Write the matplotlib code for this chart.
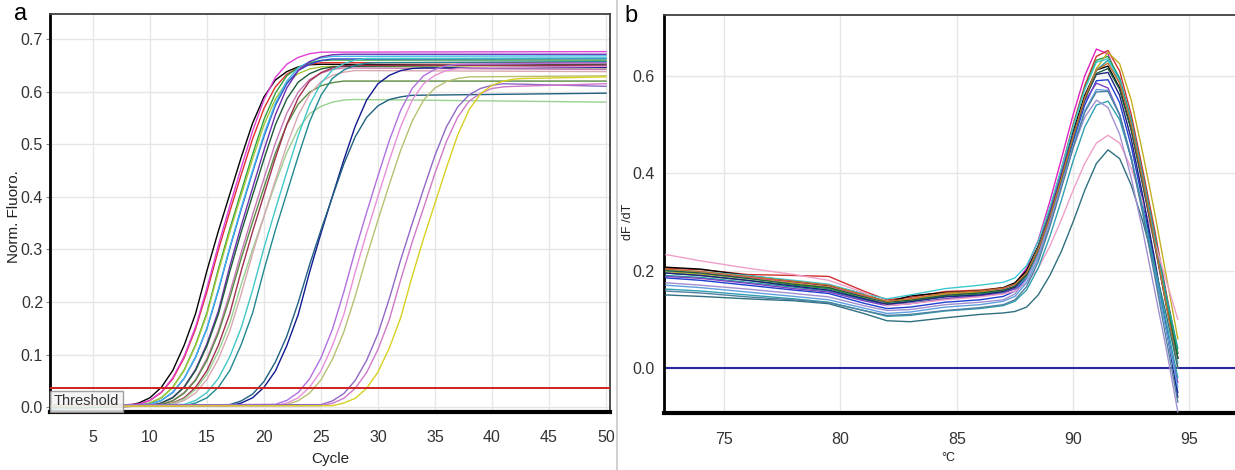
import matplotlib
matplotlib.use('Agg')
import matplotlib.pyplot as plt

plt.rcParams['font.family'] = ['Liberation Sans Narrow', 'Liberation Sans', 'DejaVu Sans']

# ---------------- panel a: amplification curves ----------------
cycle_ticks = [5, 10, 15, 20, 25, 30, 35, 40, 45, 50]
fluoro_ticks = [0.0, 0.1, 0.2, 0.3, 0.4, 0.5, 0.6, 0.7]
threshold_value = 0.037

amp_colors = ['#000000', '#e03030', '#e040d8', '#30a040', '#a8c838', '#3048d0',
              '#40b8e8', '#7030b0', '#1e5a3a', '#c878b8', '#5a8a40', '#a03050',
              '#98d090', '#d8a8b0', '#40c8c8', '#208890', '#101a90', '#206080',
              '#b070e0', '#e890d8', '#b8c070', '#9068c8', '#d078c8', '#d8d020']
amp_start = [8, 9, 9, 9, 9, 10, 10, 10, 10, 11, 11, 11,
             11, 12, 13, 13, 17, 17, 21, 21, 22, 25, 25, 26]
amp_base = [0.0, 0.0, -0.002, 0.0, 0.001, -0.002, 0.0, -0.003, 0.0, 0.001, 0.0, -0.002,
            0.0, 0.001, -0.003, 0.0, 0.002, 0.001, 0.003, 0.002, 0.001, 0.004, 0.003, 0.002]
amp_end = [0.648, 0.655, 0.676, 0.660, 0.645, 0.663, 0.668, 0.671, 0.652, 0.642, 0.620, 0.650,
           0.580, 0.638, 0.664, 0.657, 0.646, 0.597, 0.655, 0.648, 0.630, 0.610, 0.615, 0.628]

amp_rise_black = [0.003, 0.008, 0.018, 0.038, 0.07, 0.118, 0.178, 0.26, 0.335, 0.405, 0.475, 0.54, 0.59, 0.622, 0.638, 0.647, 0.651, 0.652]
amp_rise_red = [0.0055, 0.013, 0.028, 0.054, 0.094, 0.149, 0.22, 0.299, 0.372, 0.442, 0.51, 0.568, 0.609, 0.633, 0.645, 0.652, 0.655]
amp_rise_magenta = [0.006, 0.013, 0.029, 0.056, 0.097, 0.153, 0.227, 0.308, 0.383, 0.455, 0.525, 0.585, 0.627, 0.652, 0.665, 0.672, 0.675]
amp_rise_green = [0.003, 0.008, 0.018, 0.038, 0.071, 0.119, 0.18, 0.263, 0.339, 0.41, 0.481, 0.547, 0.597, 0.63, 0.646, 0.655, 0.659, 0.66]
amp_rise_yellowgreen = [0.003, 0.008, 0.018, 0.038, 0.07, 0.117, 0.177, 0.258, 0.333, 0.403, 0.472, 0.537, 0.586, 0.618, 0.634, 0.643, 0.647, 0.648]
amp_rise_blue = [0.0055, 0.013, 0.028, 0.055, 0.095, 0.15, 0.222, 0.302, 0.376, 0.447, 0.515, 0.574, 0.615, 0.64, 0.652, 0.659, 0.662]
amp_rise_lightblue = [0.0055, 0.013, 0.029, 0.055, 0.096, 0.151, 0.224, 0.304, 0.379, 0.45, 0.519, 0.578, 0.62, 0.645, 0.657, 0.664, 0.667]
amp_rise_purple = [0.003, 0.008, 0.019, 0.039, 0.072, 0.121, 0.183, 0.268, 0.345, 0.417, 0.489, 0.556, 0.607, 0.64, 0.657, 0.666, 0.67, 0.671]
amp_rise_darkgreen = [0.003, 0.008, 0.018, 0.038, 0.07, 0.117, 0.177, 0.258, 0.333, 0.403, 0.472, 0.537, 0.586, 0.618, 0.634, 0.643, 0.647, 0.648]
amp_rise_mauve = [0.0055, 0.013, 0.028, 0.053, 0.093, 0.146, 0.217, 0.294, 0.366, 0.435, 0.502, 0.559, 0.599, 0.623, 0.635, 0.642, 0.645]
amp_rise_olive = [0.005, 0.012, 0.027, 0.051, 0.089, 0.141, 0.208, 0.283, 0.352, 0.418, 0.483, 0.537, 0.576, 0.599, 0.611, 0.617, 0.62]
amp_rise_maroon = [0.003, 0.008, 0.018, 0.038, 0.07, 0.118, 0.178, 0.259, 0.334, 0.404, 0.474, 0.538, 0.588, 0.62, 0.636, 0.645, 0.649, 0.65]
amp_rise_lightgreen = [0.003, 0.007, 0.016, 0.034, 0.063, 0.106, 0.16, 0.233, 0.3, 0.363, 0.426, 0.484, 0.529, 0.558, 0.572, 0.58, 0.584, 0.585]
amp_rise_greypink = [0.005, 0.013, 0.027, 0.053, 0.092, 0.145, 0.215, 0.292, 0.363, 0.432, 0.498, 0.555, 0.595, 0.619, 0.631, 0.637, 0.64]
amp_rise_cyan = [0.0055, 0.013, 0.028, 0.055, 0.096, 0.151, 0.223, 0.303, 0.376, 0.447, 0.516, 0.575, 0.616, 0.641, 0.653, 0.66, 0.663]
amp_rise_teal = [0.003, 0.008, 0.018, 0.038, 0.07, 0.119, 0.179, 0.261, 0.337, 0.407, 0.477, 0.543, 0.593, 0.625, 0.641, 0.65, 0.654, 0.655]
amp_rise_navy = [0.003, 0.008, 0.018, 0.038, 0.069, 0.117, 0.176, 0.257, 0.331, 0.401, 0.47, 0.534, 0.584, 0.615, 0.631, 0.64, 0.644, 0.645]
amp_rise_steel = [0.005, 0.012, 0.025, 0.049, 0.086, 0.135, 0.199, 0.271, 0.337, 0.4, 0.462, 0.514, 0.551, 0.573, 0.585, 0.59, 0.593]
amp_rise_violet = [0.0055, 0.013, 0.028, 0.054, 0.094, 0.148, 0.219, 0.2975, 0.37, 0.44, 0.5075, 0.565, 0.606, 0.63, 0.6425, 0.649, 0.652]
amp_rise_pink = [0.003, 0.008, 0.018, 0.038, 0.069, 0.117, 0.176, 0.257, 0.331, 0.401, 0.47, 0.534, 0.584, 0.615, 0.631, 0.64, 0.644, 0.645]
amp_rise_khaki = [0.005, 0.0125, 0.027, 0.052, 0.091, 0.143, 0.211, 0.286, 0.356, 0.424, 0.489, 0.544, 0.584, 0.607, 0.619, 0.625, 0.628]
amp_rise_violet2 = [0.005, 0.012, 0.026, 0.051, 0.089, 0.14, 0.207, 0.281, 0.349, 0.415, 0.479, 0.533, 0.571, 0.594, 0.606, 0.612, 0.615]
amp_rise_pink2 = [0.003, 0.0075, 0.017, 0.036, 0.066, 0.11, 0.167, 0.243, 0.314, 0.379, 0.445, 0.505, 0.552, 0.582, 0.597, 0.606, 0.609, 0.61]
amp_rise_yellow = [0.003, 0.008, 0.017, 0.036, 0.067, 0.113, 0.171, 0.249, 0.321, 0.388, 0.455, 0.518, 0.566, 0.596, 0.612, 0.62, 0.624, 0.625]

amp_rise = [amp_rise_black, amp_rise_red, amp_rise_magenta, amp_rise_green, amp_rise_yellowgreen,
            amp_rise_blue, amp_rise_lightblue, amp_rise_purple, amp_rise_darkgreen, amp_rise_mauve,
            amp_rise_olive, amp_rise_maroon, amp_rise_lightgreen, amp_rise_greypink, amp_rise_cyan,
            amp_rise_teal, amp_rise_navy, amp_rise_steel, amp_rise_violet, amp_rise_pink,
            amp_rise_khaki, amp_rise_violet2, amp_rise_pink2, amp_rise_yellow]

# ---------------- panel b: melt curves ----------------
temp_ticks = [75, 80, 85, 90, 95]
dfdt_ticks = [0.0, 0.2, 0.4, 0.6]
melt_temp = [72.5, 74, 76, 78, 79.5, 81, 82, 83, 84.5, 86, 87,
             87.5, 88, 88.5, 89, 89.5, 90, 90.5, 91, 91.5, 92, 92.5, 93, 93.5, 94, 94.5]
melt_colors = ['#e020c0', '#d03030', '#000000', '#20a040', '#c0b020', '#2040d0',
               '#20a0a0', '#40c8d0', '#8040c0', '#f0a0c8', '#202080', '#206040',
               '#c07030', '#60a0e0', '#307080', '#30a0b0', '#a090d0', '#5080a0']
melt_magenta = [0.200, 0.195, 0.186, 0.176, 0.168, 0.148, 0.136, 0.141, 0.150, 0.156, 0.163,
                0.172, 0.205, 0.262, 0.342, 0.43, 0.52, 0.6, 0.655, 0.645, 0.585, 0.49, 0.375, 0.255, 0.13, 0.02]
melt_red = [0.205, 0.202, 0.192, 0.19, 0.188, 0.158, 0.14, 0.145, 0.157, 0.16, 0.165,
            0.172, 0.198, 0.25, 0.325, 0.41, 0.5, 0.58, 0.64, 0.652, 0.61, 0.52, 0.405, 0.285, 0.155, 0.03]
melt_black = [0.207, 0.203, 0.19, 0.178, 0.17, 0.152, 0.135, 0.148, 0.155, 0.158, 0.165,
              0.175, 0.2, 0.25, 0.32, 0.4, 0.485, 0.56, 0.612, 0.62, 0.575, 0.49, 0.38, 0.26, 0.135, 0.02]
melt_green = [0.195, 0.19, 0.18, 0.17, 0.163, 0.143, 0.132, 0.137, 0.147, 0.152, 0.158,
              0.168, 0.195, 0.248, 0.322, 0.405, 0.495, 0.575, 0.632, 0.64, 0.595, 0.505, 0.39, 0.27, 0.145, 0.03]
melt_olive = [0.198, 0.193, 0.184, 0.174, 0.166, 0.146, 0.136, 0.14, 0.152, 0.156, 0.16,
              0.166, 0.188, 0.232, 0.298, 0.378, 0.465, 0.55, 0.615, 0.648, 0.625, 0.55, 0.44, 0.32, 0.19, 0.06]
melt_blue = [0.185, 0.18, 0.17, 0.16, 0.153, 0.133, 0.122, 0.125, 0.135, 0.14, 0.147,
             0.158, 0.185, 0.235, 0.305, 0.385, 0.465, 0.54, 0.59, 0.592, 0.545, 0.455, 0.34, 0.215, 0.085, -0.05]
melt_teal = [0.19, 0.186, 0.176, 0.166, 0.158, 0.14, 0.13, 0.133, 0.142, 0.148, 0.155,
             0.163, 0.187, 0.236, 0.305, 0.385, 0.472, 0.552, 0.612, 0.632, 0.595, 0.51, 0.395, 0.275, 0.15, 0.04]
melt_cyan = [0.2, 0.198, 0.19, 0.18, 0.172, 0.152, 0.142, 0.15, 0.163, 0.17, 0.176,
             0.185, 0.21, 0.26, 0.33, 0.41, 0.495, 0.572, 0.628, 0.635, 0.588, 0.5, 0.385, 0.262, 0.135, 0.01]
melt_purple = [0.188, 0.184, 0.174, 0.163, 0.156, 0.138, 0.128, 0.132, 0.142, 0.148, 0.153,
               0.163, 0.193, 0.245, 0.318, 0.4, 0.48, 0.548, 0.585, 0.575, 0.52, 0.43, 0.32, 0.2, 0.08, -0.03]
melt_pink = [0.233, 0.22, 0.205, 0.192, 0.18, 0.155, 0.128, 0.132, 0.14, 0.146, 0.152,
             0.158, 0.175, 0.205, 0.25, 0.305, 0.365, 0.42, 0.462, 0.478, 0.462, 0.41, 0.34, 0.26, 0.18, 0.1]
melt_navy = [0.195, 0.19, 0.18, 0.168, 0.16, 0.142, 0.131, 0.136, 0.146, 0.15, 0.157,
             0.166, 0.192, 0.243, 0.313, 0.393, 0.477, 0.553, 0.603, 0.607, 0.56, 0.47, 0.352, 0.225, 0.085, -0.06]
melt_darkgreen = [0.2, 0.195, 0.184, 0.172, 0.165, 0.146, 0.135, 0.139, 0.149, 0.154, 0.16,
                  0.168, 0.192, 0.242, 0.31, 0.39, 0.475, 0.552, 0.605, 0.615, 0.572, 0.488, 0.375, 0.255, 0.13, 0.02]
melt_brown = [0.203, 0.198, 0.188, 0.178, 0.17, 0.15, 0.137, 0.142, 0.154, 0.158, 0.164,
              0.172, 0.195, 0.243, 0.31, 0.39, 0.475, 0.555, 0.612, 0.626, 0.585, 0.5, 0.385, 0.26, 0.13, 0.0]
melt_lightblue = [0.17, 0.165, 0.156, 0.147, 0.14, 0.123, 0.112, 0.115, 0.125, 0.13, 0.137,
                  0.147, 0.175, 0.225, 0.295, 0.375, 0.455, 0.528, 0.572, 0.57, 0.52, 0.432, 0.322, 0.2, 0.08, -0.04]
melt_steel = [0.15, 0.147, 0.142, 0.138, 0.132, 0.112, 0.097, 0.095, 0.103, 0.11, 0.113,
              0.116, 0.125, 0.15, 0.19, 0.24, 0.3, 0.365, 0.42, 0.448, 0.43, 0.375, 0.3, 0.21, 0.11, 0.0]
melt_teal2 = [0.162, 0.158, 0.15, 0.142, 0.135, 0.118, 0.106, 0.108, 0.117, 0.122, 0.128,
              0.137, 0.16, 0.205, 0.27, 0.345, 0.425, 0.495, 0.54, 0.548, 0.51, 0.43, 0.325, 0.21, 0.095, -0.02]
melt_lavender = [0.175, 0.17, 0.162, 0.153, 0.146, 0.128, 0.118, 0.12, 0.13, 0.135, 0.14,
                 0.152, 0.182, 0.232, 0.3, 0.375, 0.452, 0.515, 0.55, 0.535, 0.48, 0.39, 0.28, 0.16, 0.04, -0.09]
melt_greyblue = [0.158, 0.154, 0.146, 0.14, 0.134, 0.118, 0.108, 0.11, 0.118, 0.124, 0.13,
                 0.14, 0.167, 0.218, 0.29, 0.37, 0.452, 0.525, 0.567, 0.568, 0.52, 0.43, 0.315, 0.19, 0.06, -0.07]
melt_curves = [melt_magenta, melt_red, melt_black, melt_green, melt_olive, melt_blue,
               melt_teal, melt_cyan, melt_purple, melt_pink, melt_navy, melt_darkgreen,
               melt_brown, melt_lightblue, melt_steel, melt_teal2, melt_lavender, melt_greyblue]

# ---------------- figure ----------------
W, H = 1235, 470
fig = plt.figure(figsize=(W / 100, H / 100), dpi=100)
fig.patch.set_facecolor('white')

def px_axes(l, t, r, b):
    return fig.add_axes([l / W, 1 - b / H, (r - l) / W, (b - t) / H])

grid_col = '#e6e6e6'
tick_fs = 11.5

# panel a
axa = px_axes(50, 14, 610, 412)
axa.set_xlim(1.23, 50.35)
axa.set_ylim(-0.009, 0.7475)
axa.set_xticks(cycle_ticks)
axa.set_yticks(fluoro_ticks)
axa.set_yticklabels(['%.1f' % v for v in fluoro_ticks])
axa.grid(True, color=grid_col, lw=1.0)
axa.set_axisbelow(True)
for i, rise in enumerate(amp_rise):
    s = amp_start[i]
    xs = [1] + list(range(s, s + len(rise))) + [50]
    ys = [amp_base[i]] + rise + [amp_end[i]]
    axa.plot(xs, ys, color=amp_colors[i], lw=1.0, zorder=3)
axa.axhline(threshold_value, color='#d02020', lw=1.4, zorder=4)
axa.text(1.55, 0.004, 'Threshold', fontsize=10.5, color='#333333', zorder=6,
         bbox=dict(boxstyle='square,pad=0.25', fc='#f4f4f4', ec='#909090', lw=1.0, alpha=0.85))
axa.tick_params(axis='x', length=0, pad=13, labelsize=tick_fs, colors='#333333')
axa.tick_params(axis='y', length=3, pad=2, labelsize=tick_fs, colors='#333333', color='#888888')
for side in ['top', 'right']:
    axa.spines[side].set_color('#404040')
    axa.spines[side].set_linewidth(1.3)
axa.spines['left'].set_color('#000000')
axa.spines['left'].set_linewidth(2.0)
axa.spines['bottom'].set_color('#000000')
axa.spines['bottom'].set_linewidth(3.0)
axa.set_xlabel('Cycle', fontsize=11, color='#222222')
axa.xaxis.set_label_coords(0.5, -0.1)
axa.set_ylabel('Norm. Fluoro.', fontsize=11, color='#222222')
axa.yaxis.set_label_coords(-0.052, 0.49)

# panel b
axb = px_axes(664, 15, 1236, 413)
axb.set_xlim(72.42, 97.0)
axb.set_ylim(-0.0925, 0.725)
axb.set_xticks(temp_ticks)
axb.set_yticks(dfdt_ticks)
axb.set_yticklabels(['%.1f' % v for v in dfdt_ticks])
axb.grid(True, color=grid_col, lw=1.0)
axb.set_axisbelow(True)
axb.axhline(0.0, color='#2828a0', lw=1.5, zorder=2)
for i, ys in enumerate(melt_curves):
    axb.plot(melt_temp, ys, color=melt_colors[i], lw=1.0, zorder=3)
axb.tick_params(axis='x', length=0, pad=14, labelsize=tick_fs, colors='#333333')
axb.tick_params(axis='y', length=0, pad=7, labelsize=tick_fs, colors='#333333')
axb.spines['top'].set_color('#404040')
axb.spines['top'].set_linewidth(1.3)
axb.spines['right'].set_visible(False)
axb.spines['left'].set_color('#000000')
axb.spines['left'].set_linewidth(2.0)
axb.spines['bottom'].set_color('#000000')
axb.spines['bottom'].set_linewidth(3.0)
axb.set_xlabel('\u00b0C', fontsize=9, color='#222222')
axb.xaxis.set_label_coords(0.4965, -0.097)
axb.set_ylabel('dF /dT', fontsize=9, color='#222222')
axb.yaxis.set_label_coords(-0.052, 0.48)

# separator and panel letters
fig.add_artist(plt.Line2D([617 / W, 617 / W], [0, 1], color='#c8c8c8', lw=1.2))
fig.text(14 / W, 1 - 14 / H, 'a', fontsize=17, ha='left', va='center', family=['Liberation Sans', 'DejaVu Sans'])
fig.text(624 / W, 1 - 16 / H, 'b', fontsize=17, ha='left', va='center', family=['Liberation Sans', 'DejaVu Sans'])

fig.savefig('out.png', dpi=100, facecolor='white')
